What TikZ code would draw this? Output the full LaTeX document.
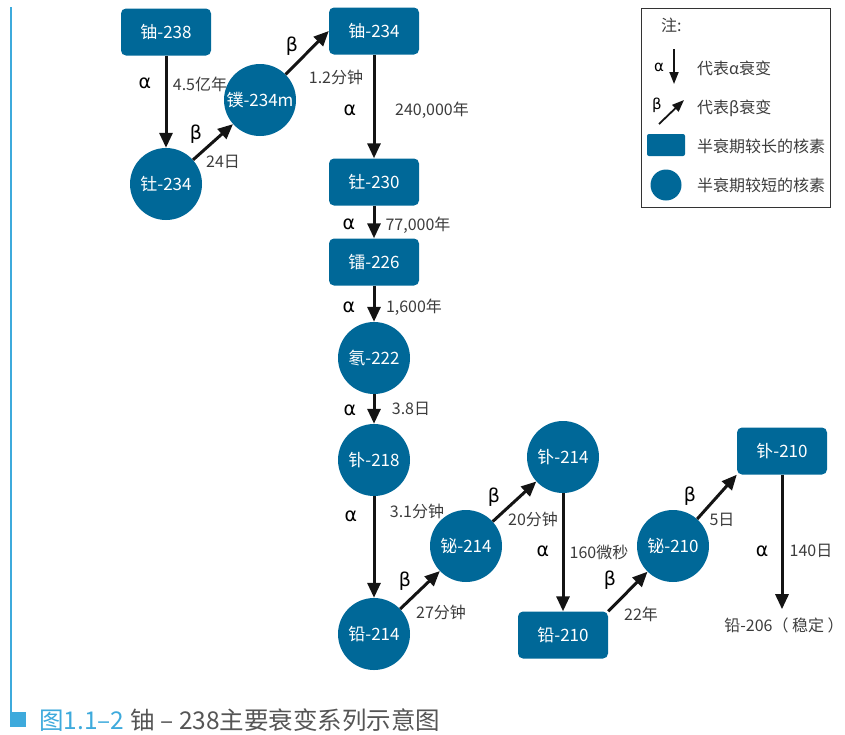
\documentclass[tikz,border=0pt]{standalone}
\usepackage{fontspec}
\setmainfont{Noto Sans CJK SC}
\newfontfamily\grk{DejaVu Sans}
\usetikzlibrary{arrows.meta}
\definecolor{nodeblue}{RGB}{0,104,152}
\definecolor{lbl}{RGB}{60,60,60}
\definecolor{capblue}{RGB}{62,170,220}
\definecolor{capgray}{RGB}{85,85,85}
\begin{document}
\begin{tikzpicture}[x=1pt,y=-1pt,
  longnuc/.style={rectangle, rounded corners=5pt, fill=nodeblue, minimum width=90pt, minimum height=47pt, text=white, font=\fontsize{17}{17}\selectfont, inner sep=0pt},
  shortnuc/.style={circle, fill=nodeblue, minimum size=72pt, text=white, font=\fontsize{17}{17}\selectfont, inner sep=0pt},
  decay/.style={line width=3pt, draw=black!92, -{Triangle[length=15pt,width=13pt]}},
  legarrow/.style={line width=1.8pt, draw=black!92, -{Triangle[length=12pt,width=9pt]}},
  lab/.style={text=lbl, font=\fontsize{16}{16}\selectfont, inner sep=0pt},
  greek/.style={text=black, font=\grk\fontsize{19}{19}\selectfont, inner sep=0pt},
  legtext/.style={text=lbl, font=\fontsize{16}{16}\selectfont, inner sep=0pt, anchor=west}]
\useasboundingbox (0,0) rectangle (845,734);

% left bar and caption
\draw[capblue, line width=2pt] (11,7) -- (11,712);
\fill[capblue] (10,712) rectangle (26,727);
\node[anchor=west, inner sep=0pt, font=\fontsize{24.5}{24.5}\selectfont] (cap) at (39,720)
  {\textcolor{capblue}{图1.1–2}\hspace{0.25em}\textcolor{capgray}{铀 – 238主要衰变系列示意图}};

% nuclides
\node[longnuc] (u238) at (166,32) {铀-238};
\node[longnuc] (u234) at (374,31) {铀-234};
\node[shortnuc] (pa234) at (260,100) {镤-234m};
\node[shortnuc] (th234) at (166,184) {钍-234};
\node[longnuc] (th230) at (374,182) {钍-230};
\node[longnuc] (ra226) at (374,262) {镭-226};
\node[shortnuc] (rn222) at (374,358) {氡-222};
\node[shortnuc] (po218) at (374,460) {钋-218};
\node[shortnuc] (pb214) at (374,634) {铅-214};
\node[shortnuc] (bi214) at (466,546) {铋-214};
\node[shortnuc] (po214) at (563,457) {钋-214};
\node[longnuc] (pb210) at (563,635) {铅-210};
\node[shortnuc] (bi210) at (673,546) {铋-210};
\node[longnuc] (po210) at (782,451) {钋-210};
\node[lab, font=\fontsize{16}{16}\selectfont] (pb206) at (784,625) {铅-206（ 稳定 ）};

% decays
\draw[decay] (u238) -- (th234);
\draw[decay] (th234) -- (pa234);
\draw[decay] (pa234) -- (u234.west);
\draw[decay] (u234) -- (th230);
\draw[decay] (th230) -- (ra226);
\draw[decay] (ra226) -- (rn222);
\draw[decay] (rn222) -- (po218);
\draw[decay] (po218) -- (pb214);
\draw[decay] (pb214) -- (bi214);
\draw[decay] (bi214) -- (po214);
\draw[decay] (po214) -- (pb210);
\draw[decay] (pb210.north east) -- (bi210);
\draw[decay] (bi210) -- (po210.south west);
\draw[decay, shorten >=8pt] (po210.south) -- (po210.south |- pb206.north);

% labels
\node[greek] (g1) at (145,83) {α};
\node[lab] (t1) at (200,84) {4.5亿年};
\node[greek] (g2) at (196,134) {β};
\node[lab] (t2) at (223,162) {24日};
\node[greek] (g3) at (292,46) {β};
\node[lab] (t3) at (336,77) {1.2分钟};
\node[greek] (g4) at (350,110) {α};
\node[lab] (t4) at (432,110) {240,000年};
\node[greek] (g5) at (349,224) {α};
\node[lab] (t5) at (418,225) {77,000年};
\node[greek] (g6) at (349,307) {α};
\node[lab] (t6) at (414,307) {1,600年};
\node[greek] (g7) at (350,410) {α};
\node[lab] (t7) at (411,409) {3.8日};
\node[greek] (g8) at (351,516) {α};
\node[lab] (t8) at (417,511) {3.1分钟};
\node[greek] (g9) at (405,581) {β};
\node[lab] (t9) at (441,612) {27分钟};
\node[greek] (g10) at (494,497) {β};
\node[lab] (t10) at (533,519) {20分钟};
\node[greek] (g11) at (543,551) {α};
\node[lab] (t11) at (599,552) {160微秒};
\node[greek] (g12) at (610,580) {β};
\node[lab] (t12) at (641,614) {22年};
\node[greek] (g13) at (690,496) {β};
\node[lab] (t13) at (722,520) {5日};
\node[greek] (g14) at (762,551) {α};
\node[lab] (t14) at (811,551) {140日};

% legend
\draw[black!80, line width=1pt] (641,8) rectangle (830,207);
\node[legtext] (ln) at (661,25) {注:};
\node[text=black, font=\grk\fontsize{15}{15}\selectfont, inner sep=0pt] (la) at (659,67) {α};
\coordinate (la1) at (674,49);
\coordinate (la2) at (674,84);
\draw[legarrow] (la1) -- (la2);
\node[legtext] (lat) at (697,68) {代表α衰变};
\node[text=black, font=\grk\fontsize{15}{15}\selectfont, inner sep=0pt] (lb) at (657,105) {β};
\coordinate (lb1) at (659,124);
\coordinate (lb2) at (684,100);
\draw[legarrow] (lb1) -- (lb2);
\node[legtext] (lbt) at (697,108) {代表β衰变};
\node[rectangle, rounded corners=2pt, fill=nodeblue, minimum width=38pt, minimum height=22pt, inner sep=0pt] (lr) at (666,145) {};
\node[legtext] (lrt) at (697,146) {半衰期较长的核素};
\node[circle, fill=nodeblue, minimum size=31pt, inner sep=0pt] (lc) at (666,185) {};
\node[legtext] (lct) at (697,185) {半衰期较短的核素};
\end{tikzpicture}
\end{document}
